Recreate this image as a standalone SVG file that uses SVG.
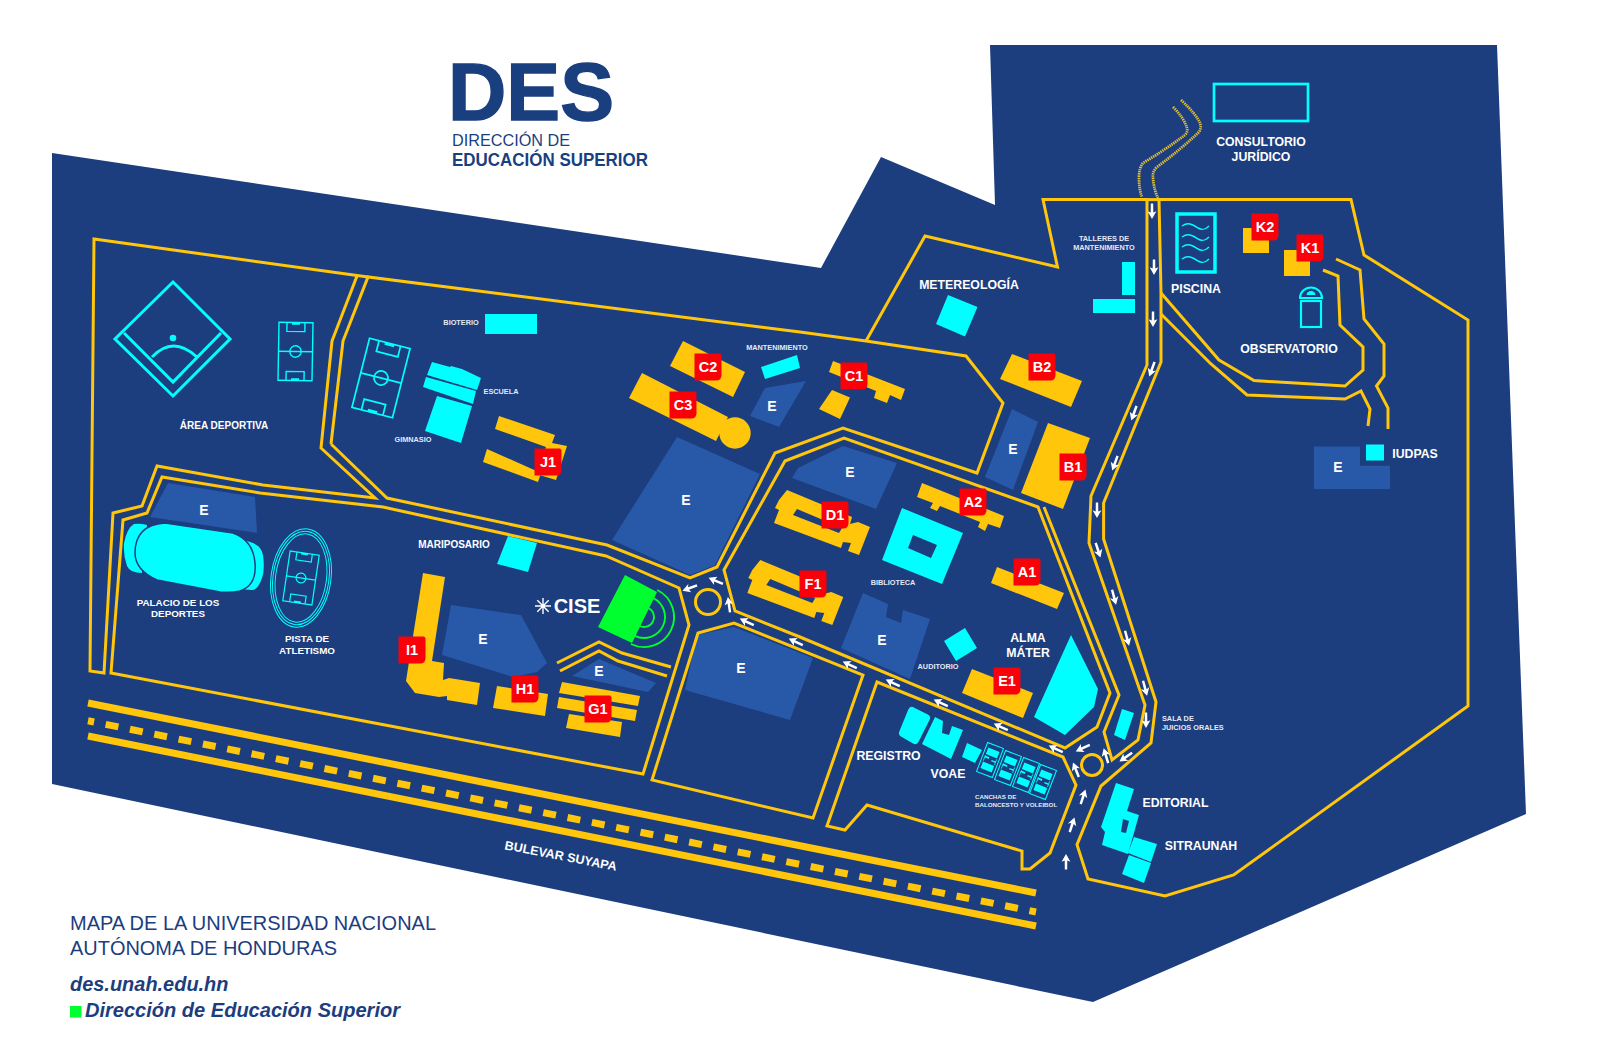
<svg xmlns="http://www.w3.org/2000/svg" xmlns:xlink="http://www.w3.org/1999/xlink" width="1600" height="1052" viewBox="0 0 1600 1052">
<style>
text{font-family:"Liberation Sans",Arial,sans-serif;}
.r{fill:none;stroke:#FFC60B;stroke-width:3;stroke-linejoin:miter;}
.b{fill:#FFC60B;}
.c{fill:#00FFFF;}
.e{fill:#2859A8;}
.cl{fill:none;stroke:#00FFFF;}
.t{fill:#fff;font-weight:700;text-anchor:middle;font-size:12.3px;}
.s{fill:#e4e9f4;font-weight:700;text-anchor:middle;font-size:7.3px;}
.l{fill:#fff;font-weight:700;text-anchor:middle;font-size:14px;}
.k{fill:#fff;font-weight:700;text-anchor:middle;font-size:14.5px;}
.h{fill:#1C3D7E;}
.dot{fill:none;stroke:#E2C034;stroke-width:2.8;stroke-dasharray:1.4 .8;}
</style>
<defs>
<path id="badge" fill="#FA0008" d="M-13.5,-13.5H12L13.5,-12V8Q13.5,13.5 8,13.5H-13.5Z"/>
<path id="ar" fill="#fff" d="M0,-8L4.4,-.2L1.3,-1.6L1.2,7.5H-1.2L-1.3,-1.6L-4.4,-.2Z"/>
<g id="field" fill="none" stroke="#00FFFF" stroke-width="1.4">
<rect x="-17" y="-29" width="34" height="58"/><path d="M-17,0H17"/><circle r="5.7"/>
<path d="M-9,-29V-20H9V-29M-9,29V20H9V29"/>
<path d="M-4,-28H4M-4,28H4" stroke-width="2.4"/>
</g>
<g id="court">
<rect x="-8.5" y="-15.5" width="17" height="31" fill="none" stroke="#00FFFF" stroke-width="1"/>
<path class="c" d="M-6,-11H6V-4H-6ZM-6,4H6V11H-6ZM-6,-2.4H-1.5V-.6H-6ZM1.5,-.6H6V.8H1.5Z"/>
<path fill="none" stroke="#00FFFF" stroke-width=".8" d="M-6,-3V3M6,-3V3"/>
</g>
<path id="hall" fill-rule="evenodd" class="b" d="M787,490L852,517L850,524L858,522L870,527L859,555L848,551L851,543L843,542L841,548L774,523L779,510L775,508L779,500ZM797,509L793,515L839,533L842,528Z"/>
</defs>

<g id="title">
<text x="448" y="120" font-size="81" font-weight="700" fill="#1A3F7F" stroke="#1A3F7F" stroke-width="1.4" textLength="166" lengthAdjust="spacingAndGlyphs">DES</text>
<text x="452" y="146" font-size="16.5" fill="#1A3F7F" textLength="118" lengthAdjust="spacingAndGlyphs">DIRECCIÓN DE</text>
<text x="452" y="166" font-size="17.5" font-weight="700" fill="#1A3F7F" textLength="196" lengthAdjust="spacingAndGlyphs">EDUCACIÓN SUPERIOR</text>
</g>

<polygon id="campus" fill="#1C3D7E" points="52,153 821,268 881,157 995,205 990,45 1497,45 1515,526 1526,814 1093,1002 52,784"/>

<g id="open-areas">
<polygon class="e" points="168,483 255,497 257,533 150,517"/>
<polygon class="e" points="765,388 806,381 779,427 750,416"/>
<polygon class="e" points="677,437 760,474 715,565 690,575 612,540"/>
<polygon class="e" points="1012,409 1038,422 1013,490 985,477"/>
<polygon class="e" points="843,446 897,463 876,509 792,478 798,468"/>
<polygon class="e" points="863,593 888,604 886,617 901,623 903,610 930,619 910,679 841,648"/>
<polygon class="e" points="697,635 734,627 813,658 790,720 685,690"/>
<polygon class="e" points="451,605 521,615 547,663 537,672 513,677 442,655"/>
<polygon class="e" points="599,659 656,683 648,692 572,676"/>
<polygon class="e" points="1314,446.5 1360,446.5 1360,465.7 1390,465.7 1390,489 1314,489"/>
<g>
<text class="l" x="204" y="515">E</text><text class="l" x="772" y="411">E</text><text class="l" x="686" y="505">E</text><text class="l" x="1013" y="454">E</text><text class="l" x="850" y="477">E</text><text class="l" x="882" y="645">E</text><text class="l" x="741" y="673">E</text><text class="l" x="483" y="644">E</text><text class="l" x="599" y="676">E</text><text class="l" x="1338" y="472">E</text>
</g>
</g>

<g id="connectors">
<polyline class="r" points="368,277 94,239 90,671 104,673 113,513 142,506 157,466 263,485 375,498 321,448 332,341 357,276"/>
<polyline class="r" points="331,444 343,341 368,277 800,332 866,341 966,356 1003,403 977,473 843,428 775,453 717,567 690,578 607,545 387,498 331,444"/>
<polygon class="r" points="123,520 147,513 162,477 260,493 383,507 606,556 679,588 689,625 643,774 111,673"/>
<polygon class="r" points="785,461 844,438 1038,507 1110,693 1097,727 1065,748 800,637 735,611 724,570"/>
<polygon class="r" points="652,780 698,633 734,623 863,675 813,818"/>
<polygon class="r" points="877,682 1063,757 1076,785 1050,853 1030,869 1022,869 1022,851 867,805 845,830 827,826"/>
<polyline class="r" points="1044,507 1119,695 1104,732 1112,760 1138,740 1145,705 1089,543 1091,496 1147,365 1147,199.6 1043,199.6 1057.5,267 925,236 866,341"/>
<polygon class="r" points="1159,199.6 1161,293 1161,362 1103.6,503 1103.6,539 1156,702 1151,743 1101,786 1077,844.6 1088,879 1165,896 1233.6,875 1468,706 1468,320 1364,255 1351,199.6"/>
<path class="r" d="M1147,199.6H1159"/>
<polyline class="r" points="1161,293 1219,360 1254,380.6 1345,386 1363,370 1363,347 1340,325 1338,276 1323,270"/>
<polyline class="r" points="1161,314 1211,364 1247,395 1345,399 1361,391 1370,409 1368,426"/>
<polyline class="r" points="1336,259 1360,270 1364,319 1384,344 1384,376 1376.5,386 1388,408 1388,429"/>
<polyline class="r" points="557,663 599,642 622,653 671,667"/>
<polyline class="r" points="560,671 599,651 618,661 667,676"/>
<path class="dot" d="M1181,100Q1196,114 1200,123Q1202,129 1198,133Q1180,150 1157,167Q1152,172 1153,178Q1154,190 1158,198"/>
<path class="dot" d="M1173,107Q1184,118 1187,128Q1188,132 1185,135Q1165,150 1143,163Q1139,168 1139,177Q1139,190 1142,197"/>
<g fill="none" stroke="#FFC60B">
<circle cx="708" cy="602" r="12.5" stroke-width="3"/>
<circle cx="1092" cy="765" r="10.5" stroke-width="3"/>
<path d="M88,703L1036,893M88,736L1036,926" stroke-width="7"/>
<path d="M88,720.8L1036,912" stroke-width="7" stroke-dasharray="13 11.8" stroke-dashoffset="6.8"/>
</g>
<g id="arrows">
<use xlink:href="#ar" transform="translate(690,588) rotate(-110)"/>
<use xlink:href="#ar" transform="translate(716,581) rotate(-67)"/>
<use xlink:href="#ar" transform="translate(729,605) rotate(-8)"/>
<use xlink:href="#ar" transform="translate(747,622) rotate(-65)"/>
<use xlink:href="#ar" transform="translate(796,642) rotate(-65)"/>
<use xlink:href="#ar" transform="translate(850,665) rotate(-65)"/>
<use xlink:href="#ar" transform="translate(893,683) rotate(-65)"/>
<use xlink:href="#ar" transform="translate(941,703) rotate(-65)"/>
<use xlink:href="#ar" transform="translate(1001,727) rotate(-65)"/>
<use xlink:href="#ar" transform="translate(1056,749) rotate(-65)"/>
<use xlink:href="#ar" transform="translate(1083,748) rotate(-115)"/>
<use xlink:href="#ar" transform="translate(1076,770) rotate(-22)"/>
<use xlink:href="#ar" transform="translate(1106,756) rotate(-17)"/>
<use xlink:href="#ar" transform="translate(1126,757) rotate(-125)"/>
<use xlink:href="#ar" transform="translate(1083,797) rotate(18)"/>
<use xlink:href="#ar" transform="translate(1072,825) rotate(18)"/>
<use xlink:href="#ar" transform="translate(1066,862)"/>
<use xlink:href="#ar" transform="translate(1152,211) rotate(180)"/>
<use xlink:href="#ar" transform="translate(1154,267) rotate(180)"/>
<use xlink:href="#ar" transform="translate(1153,319) rotate(180)"/>
<use xlink:href="#ar" transform="translate(1152,369) rotate(200)"/>
<use xlink:href="#ar" transform="translate(1134,413) rotate(200)"/>
<use xlink:href="#ar" transform="translate(1115,463) rotate(200)"/>
<use xlink:href="#ar" transform="translate(1097,510) rotate(180)"/>
<use xlink:href="#ar" transform="translate(1098,550) rotate(162)"/>
<use xlink:href="#ar" transform="translate(1114,597) rotate(165)"/>
<use xlink:href="#ar" transform="translate(1127,638) rotate(165)"/>
<use xlink:href="#ar" transform="translate(1145,688) rotate(165)"/>
<use xlink:href="#ar" transform="translate(1146,720) rotate(180)"/>
</g>
</g>

<g id="area-deportiva">
<polygon class="cl" stroke-width="3" points="173,282 230,339 173,396 115,339"/>
<path class="cl" stroke-width="3" d="M124,333L173,382L221,333M152,357Q173,335 197,357"/>
<circle class="c" cx="173" cy="338" r="3.3"/>
<use xlink:href="#field" transform="translate(295.5,351.5) rotate(1)"/>
<use xlink:href="#field" transform="translate(381,378) rotate(14.3) scale(1.23)"/>
<text class="t" style="font-size:10px" x="224" y="429">ÁREA DEPORTIVA</text>
</g>
<g id="palacio">
<path class="c" d="M142,573Q130,573 127,566Q123,555 124,543Q127,528 134,524Q140,523 147,525ZM247,541L253,543Q262,547 263,555Q265,570 262,578Q258,590 252,590L238,589Z"/>
<path class="c" stroke="#1C3D7E" stroke-width="1.5" d="M165,523L233,533Q253,540 255,563Q257,585 240,591Q232,593 220,592L157,580Q135,570 135,553Q135,525 165,523Z"/>
<text class="t" style="font-size:9.8px" x="178" y="605.5">PALACIO DE LOS</text>
<text class="t" style="font-size:9.8px" x="178" y="617">DEPORTES</text>
</g>
<g id="pista">
<g transform="translate(301,578) rotate(8)" fill="none" stroke="#00FFFF" stroke-width="1">
<ellipse rx="30" ry="49.5"/><ellipse rx="28" ry="47"/><ellipse rx="25.5" ry="44.5"/>
</g>
<use xlink:href="#field" transform="translate(301,578) rotate(8.4) scale(.865)"/>
<text class="t" style="font-size:9.8px" x="307" y="641.5">PISTA DE</text>
<text class="t" style="font-size:9.8px" x="307" y="653.5">ATLETISMO</text>
</g>
<g id="bioterio"><rect class="c" x="485" y="314" width="52" height="20"/><text class="s" x="461" y="325">BIOTERIO</text></g>
<g id="escuela">
<polygon class="c" points="432,362 450,367 451,366 462,369 481,378 477,390 427,375"/>
<polygon class="c" points="426,377 476,391 473,404 423,387"/>
<text class="s" x="501" y="394">ESCUELA</text>
</g>
<g id="gimnasio"><polygon class="c" points="437,396 472,406 461,443 425,431"/><text class="s" x="413" y="442">GIMNASIO</text></g>
<g id="J1">
<polygon class="b" points="499,416 555,435 552,443 567,446 556,480 536,474 546,447 495,429"/>
<polygon class="b" points="487,449 541,473 538,482 483,462"/>
<use xlink:href="#badge" x="548" y="462"/><text class="k" x="548" y="467">J1</text>
</g>
<g id="C2">
<polygon class="b" points="683,341 745,372 733,397 670,366"/>
<use xlink:href="#badge" x="708" y="367"/><text class="k" x="708" y="372">C2</text>
</g>
<g id="C3">
<polygon class="b" points="642,373 728,417 716,441 629,398"/><circle class="b" cx="735" cy="433" r="15.7"/>
<use xlink:href="#badge" x="683" y="405"/><text class="k" x="683" y="410">C3</text>
</g>
<g id="mantenimiento"><polygon class="c" points="761,367 797,355 800,368 765,379"/><text class="s" x="777" y="350">MANTENIMIENTO</text></g>
<g id="C1">
<polygon class="b" points="833,361 905,389 901,400 890,395 887,403 874,398 876,391 829,372"/>
<polygon class="b" points="832,390 850,397.5 840,419 819,409"/>
<use xlink:href="#badge" x="854" y="376"/><text class="k" x="854" y="381">C1</text>
</g>
<g id="B2">
<polygon class="b" points="1012,354 1082,381 1071,407 1000,379"/>
<use xlink:href="#badge" x="1042" y="367"/><text class="k" x="1042" y="372">B2</text>
</g>
<g id="B1">
<polygon class="b" points="1048,423 1090,438 1063,509 1021,493"/>
<use xlink:href="#badge" x="1073" y="467"/><text class="k" x="1073" y="472">B1</text>
</g>
<g id="A2">
<polygon class="b" points="922,483 1004,516 1000,528 988,524 985,531 978,527 980,522 940,506 937,511 930,508 933,503 917,497"/>
<use xlink:href="#badge" x="973" y="502"/><text class="k" x="973" y="507">A2</text>
</g>
<g id="D1">
<use xlink:href="#hall"/>
<use xlink:href="#badge" x="835" y="515"/><text class="k" x="835" y="520">D1</text>
</g>
<g id="F1">
<use xlink:href="#hall" transform="translate(-26.7,70)"/>
<use xlink:href="#badge" x="813" y="584"/><text class="k" x="813" y="589">F1</text>
</g>
<g id="biblioteca">
<path class="c" fill-rule="evenodd" d="M902,508L963,533L942,584L882,560ZM913,535L908,548L931,558L937,545Z"/>
<text class="s" x="893" y="585">BIBLIOTECA</text>
</g>
<g id="A1">
<polygon class="b" points="997,567 1064,593 1057,609 991,583"/>
<use xlink:href="#badge" x="1027" y="572"/><text class="k" x="1027" y="577">A1</text>
</g>
<g id="auditorio"><polygon class="c" points="965,628 977,648 956,661 944,641"/><text class="s" x="938" y="669">AUDITORIO</text></g>
<g id="E1">
<polygon class="b" points="972,669 1033,693 1023,718 962,693"/>
<use xlink:href="#badge" x="1007" y="681"/><text class="k" x="1007" y="686">E1</text>
</g>
<g id="alma-mater">
<polygon class="c" points="1071,635 1098,689 1094,707 1065,735 1034,717"/>
<text class="t" x="1028" y="641.5">ALMA</text><text class="t" x="1028" y="656.5">MÁTER</text>
</g>
<g id="sala-juicios">
<polygon class="c" points="1122,709 1134,713 1125,740 1114,735"/>
<text class="s" x="1162" y="720.5" style="text-anchor:start">SALA DE</text>
<text class="s" x="1162" y="729.5" style="text-anchor:start">JUICIOS ORALES</text>
</g>
<g id="mariposario"><polygon class="c" points="508,536 537,543 528,572 497,564"/><text class="t" style="font-size:10px" x="454" y="547.5">MARIPOSARIO</text></g>
<g id="I1">
<polygon class="b" points="423,573 445,577 432,661 444,663 443,680 449,678 480,683 477,705 447,700 447,696 439,697 415,693 406,681 414,630"/>
<use xlink:href="#badge" x="412" y="650"/><text class="k" x="412" y="655">I1</text>
</g>
<g id="H1">
<polygon class="b" points="497,686 548,694 545,716 493,708"/>
<use xlink:href="#badge" x="525" y="689"/><text class="k" x="525" y="694">H1</text>
</g>
<g id="G1">
<polygon class="b" points="562,682 640,696 638,706 559,693"/>
<polygon class="b" points="559,697 637,710 635,721 557,708"/>
<polygon class="b" points="569,714 622,722 620,737 566,728"/>
<use xlink:href="#badge" x="598" y="709"/><text class="k" x="598" y="714">G1</text>
</g>
<g id="cise">
<path fill="none" stroke="#fff" stroke-width="1.4" d="M535,606H551M543,598V614M537.3,600.3L548.7,611.7M537.3,611.7L548.7,600.3"/>
<text class="t" style="font-size:20px" x="577" y="613">CISE</text>
<g fill="none" stroke="#00FF2F" stroke-width="1.9">
<path d="M657.2,590A30,30 0 0 1 630.8,644"/>
<path d="M653.2,598.100A21,21 0 0 1 634.800,635.900"/>
<path d="M648.400,608A10,10 0 0 1 639.600,626"/>
</g>
<polygon fill="#00FF2F" points="625,575 657,592 632,643 598,627"/>
</g>
<g id="registro">
<polygon class="c" stroke="#00FFFF" stroke-width="8" stroke-linejoin="round" points="912,711 926,718 915,740 903,733"/>
<text class="t" x="888.5" y="759.5">REGISTRO</text>
</g>
<g id="voae">
<polygon class="c" points="935,717 943,721 942,733 949,735 952,726 963,730 951,759 922,744"/>
<polygon class="c" points="967,743 982,750 975,763 962,757"/>
<text class="t" x="948" y="777.5">VOAE</text>
</g>
<g id="canchas">
<use xlink:href="#court" transform="translate(990,760) rotate(21)"/>
<use xlink:href="#court" transform="translate(1008,768) rotate(21)"/>
<use xlink:href="#court" transform="translate(1026,775) rotate(21)"/>
<use xlink:href="#court" transform="translate(1043,782) rotate(21)"/>
<text class="s" x="975" y="799" style="text-anchor:start;font-size:6.2px">CANCHAS DE</text>
<text class="s" x="975" y="807" style="text-anchor:start;font-size:6.2px">BALONCESTO Y VOLEIBOL</text>
</g>
<g id="editorial">
<path class="c" fill-rule="evenodd" d="M1116,783L1134,789L1127,811L1139,815L1128,854L1102,845L1105,832L1101,827ZM1123,819L1129,821L1126,833L1121,832Z"/>
<text class="t" x="1175.5" y="806.5">EDITORIAL</text>
</g>
<g id="sitraunah">
<polygon class="c" points="1134,837 1157,844 1151,862 1128,853"/>
<polygon class="c" points="1129,855 1151,863 1144,883 1122,874"/>
<text class="t" x="1201" y="849.5">SITRAUNAH</text>
</g>
<g id="metereologia"><polygon class="c" points="948,295 977.5,307 965,336.5 936,324"/><text class="t" x="969" y="288.5">METEREOLOGÍA</text></g>
<g id="talleres">
<rect class="c" x="1122" y="262" width="13" height="33"/><rect class="c" x="1093" y="299" width="42" height="14"/>
<text class="s" x="1104" y="241">TALLERES DE</text><text class="s" x="1104" y="250">MANTENIMIENTO</text>
</g>
<g id="consultorio">
<rect x="1214" y="84" width="94" height="37" fill="none" stroke="#00FFFF" stroke-width="2.7"/>
<text class="t" x="1261" y="145.500">CONSULTORIO</text><text class="t" x="1261" y="160.500">JURÍDICO</text>
</g>
<g id="piscina">
<rect x="1177" y="214" width="38" height="58" fill="none" stroke="#00FFFF" stroke-width="3.5"/>
<path class="cl" stroke-width="1.5" d="M1182,226C1188,222 1192,224 1198,228C1203,231 1206,229 1209,226M1182,237C1188,233 1192,235 1198,239C1203,242 1206,240 1209,237M1182,247C1188,243 1192,245 1198,249C1203,252 1206,250 1209,247M1182,259C1188,255 1192,257 1198,261C1203,264 1206,262 1209,259"/>
<text class="t" x="1196" y="292.500">PISCINA</text>
</g>
<g id="K2">
<rect class="b" x="1243" y="228" width="26" height="25"/>
<use xlink:href="#badge" x="1265" y="227"/><text class="k" x="1265" y="232">K2</text>
</g>
<g id="K1">
<rect class="b" x="1284" y="250" width="26" height="26"/>
<use xlink:href="#badge" x="1310" y="248"/><text class="k" x="1310" y="253">K1</text>
</g>
<g id="observatorio">
<rect x="1301" y="301" width="20" height="26" fill="none" stroke="#00FFFF" stroke-width="2.2"/>
<path class="cl" stroke-width="2" d="M1300,298A11,10.5 0 0 1 1322,298Z"/>
<path class="c" d="M1306.500,295A4.500,4 0 0 1 1315.500,295Z"/>
<text class="t" x="1289" y="353">OBSERVATORIO</text>
</g>
<g id="iudpas"><rect class="c" x="1366" y="444.500" width="18" height="16"/><text class="t" x="1415" y="457.500">IUDPAS</text></g>
<text class="t" style="font-size:12.6px" x="560" y="860" transform="rotate(11 560 860)">BULEVAR SUYAPA</text>

<g id="footer" fill="#1C3D7E">
<text x="70" y="930" font-size="20.5" textLength="366" lengthAdjust="spacingAndGlyphs">MAPA DE LA UNIVERSIDAD NACIONAL</text>
<text x="70" y="954.500" font-size="20.5" textLength="267" lengthAdjust="spacingAndGlyphs">AUTÓNOMA DE HONDURAS</text>
<text x="70" y="991" font-size="20" font-weight="700" font-style="italic" textLength="158.500" lengthAdjust="spacingAndGlyphs">des.unah.edu.hn</text>
<rect x="70" y="1006" width="11.500" height="11.500" fill="#00FF2F"/>
<text x="85" y="1017" font-size="20" font-weight="700" font-style="italic" textLength="315" lengthAdjust="spacingAndGlyphs">Dirección de Educación Superior</text>
</g>
</svg>
